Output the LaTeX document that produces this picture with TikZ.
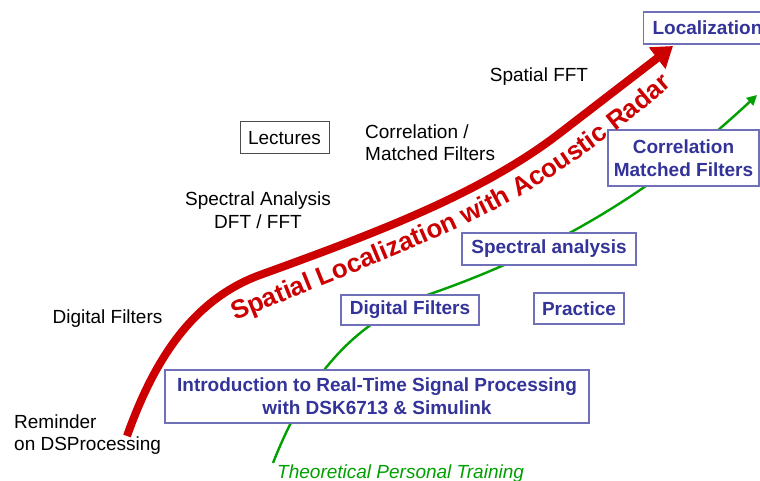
\documentclass[tikz,border=0pt]{standalone}
\usepackage{fontspec}
\setmainfont{Liberation Sans}
\usetikzlibrary{arrows.meta,decorations.text}
\definecolor{rdc}{HTML}{CC0000}
\definecolor{grn}{HTML}{00A000}
\definecolor{txtb}{HTML}{333399}
\definecolor{brdb}{HTML}{7070B8}
\newcommand{\fsz}{\fontsize{19}{23}\selectfont}
\begin{document}
\begin{tikzpicture}[x=1pt,y=-1pt,
  bbox/.style={draw=brdb, line width=1.1pt, fill=white, text=txtb, font=\fsz\bfseries, align=center, inner sep=0pt},
  lbox/.style={draw=black!70, line width=1pt, fill=white, font=\fsz, inner sep=0pt},
  ptxt/.style={font=\fsz, inner sep=0pt, anchor=base},
  redline/.style={draw=rdc, line width=8pt, -{Triangle[length=20pt,width=26pt]}},
  greenline/.style={draw=grn, line width=2.4pt, -{Triangle[length=10pt,width=10pt]}},
]
\fill[white] (0,0) rectangle (760,481);
\useasboundingbox (0,0) rectangle (760,481);

% green line (theoretical personal training path)
\coordinate (gs) at (273,463);
\coordinate (gm) at (433,293);
\coordinate (ge) at (757,95);
\draw[greenline] (gs) .. controls (313,361) and (367,316) .. (gm)
  .. controls (574,243.5) and (669,177) .. (ge);

% boxes
\node[bbox, anchor=west, inner xsep=9pt, minimum height=32pt] (loc) at (643,28) {Localization};
\node[bbox, minimum width=151pt, minimum height=56pt] (corr) at (683.5,158) {Correlation\\Matched Filters};
\node[bbox, minimum width=174pt, minimum height=32pt] (spec) at (549,249) {Spectral analysis};
\node[bbox, minimum width=138pt, minimum height=30pt] (df) at (410,310) {Digital Filters};
\node[bbox, minimum width=90pt, minimum height=31pt] (prac) at (579,308.5) {Practice};
\node[bbox, minimum width=424pt, minimum height=53pt] (intro) at (377,396.5) {Introduction to Real-Time Signal Processing\\with DSK6713 \& Simulink};
\node[lbox, minimum width=89pt, minimum height=32pt] (lect) at (284.5,138) {Lectures};

% plain labels
\node[ptxt] (sfft) at (539,82) {Spatial FFT};
\node[ptxt, anchor=base west] (cm1) at (365,139) {Correlation /};
\node[ptxt, anchor=base west] (cm2) at (365,161) {Matched Filters};
\node[ptxt] (sa1) at (258,206) {Spectral Analysis};
\node[ptxt] (sa2) at (258,228) {DFT / FFT};
\node[ptxt] (dfl) at (107.5,323) {Digital Filters};
\node[ptxt, anchor=base west] (rem1) at (14,428) {Reminder};
\node[ptxt, anchor=base west] (rem2) at (14,450) {on DSProcessing};
\node[ptxt, anchor=base west, text=grn, font=\fsz\itshape] (tpt) at (277,478) {Theoretical Personal Training};

% red main arrow
\coordinate (rs) at (127,436);
\coordinate (r1) at (260,275);
\coordinate (r2) at (560,133);
\coordinate (re) at (673,46);
\draw[redline] (rs) .. controls (152,366) and (189,301) .. (r1)
  .. controls (373,234) and (481,194) .. (r2) -- (re);
% title along the arrow
\coordinate (ts) at (235,321);
\coordinate (tm) at (510,202);
\coordinate (te) at (684,74);
\path[decorate, decoration={text along path, text align=left,
  text={|\color{rdc}\fontsize{26}{26}\selectfont\bfseries|Spatial Localization with Acoustic Radar}}]
  (ts) .. controls (340,278) and (440,240) .. (tm) .. controls (570,168) and (632,122) .. (te);
\end{tikzpicture}
\end{document}
